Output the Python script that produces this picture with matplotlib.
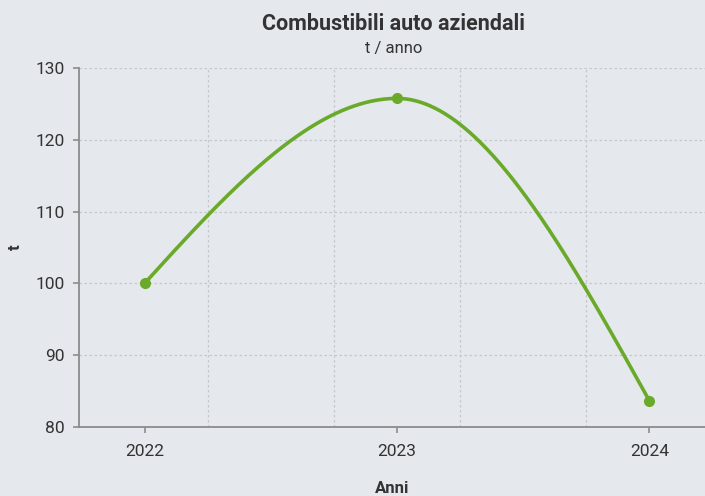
import numpy as np
import matplotlib
matplotlib.use("Agg")
import matplotlib.pyplot as plt

plt.rcParams['font.family'] = ['Roboto', 'DejaVu Sans']

# Data
years = [2022, 2023, 2024]
values = [100.0, 125.8, 83.6]
y_ticks = [80, 90, 100, 110, 120, 130]

title = "Combustibili auto aziendali"
subtitle = "t / anno"
x_label = "Anni"
y_label = "t"

BG = "#e5e8ed"
GREEN = "#6aaa2a"
TEXT = "#333333"


def monotone_x(x, y, n=200):
    """Monotone cubic interpolation (same rules as d3.curveMonotoneX)."""
    x = np.asarray(x, float)
    y = np.asarray(y, float)
    h = np.diff(x)
    s = np.diff(y) / h
    m = np.zeros_like(y)
    for i in range(1, len(x) - 1):
        p = (s[i - 1] * h[i] + s[i] * h[i - 1]) / (h[i - 1] + h[i])
        m[i] = (np.sign(s[i - 1]) + np.sign(s[i])) * min(abs(s[i - 1]), abs(s[i]), 0.5 * abs(p))
    m[0] = (3 * s[0] - m[1]) / 2
    m[-1] = (3 * s[-1] - m[-2]) / 2
    xs, ys = [], []
    for i in range(len(x) - 1):
        t = np.linspace(0, 1, n)
        h00 = 2 * t**3 - 3 * t**2 + 1
        h10 = t**3 - 2 * t**2 + t
        h01 = -2 * t**3 + 3 * t**2
        h11 = t**3 - t**2
        xs.append(x[i] + t * h[i])
        ys.append(h00 * y[i] + h10 * h[i] * m[i] + h01 * y[i + 1] + h11 * h[i] * m[i + 1])
    return np.concatenate(xs), np.concatenate(ys)


fig = plt.figure(figsize=(7.05, 4.96), dpi=100, facecolor=BG)
ax = fig.add_axes([0.112, 0.1397, 0.888, 0.7226], facecolor=BG)

cx, cy = monotone_x(years, values)
ax.plot(cx, cy, color=GREEN, lw=2.6, solid_capstyle='round', zorder=3)
ax.plot(years, values, 'o', color=GREEN, ms=7, zorder=4)

ax.set_xlim(2021.74, 2024.22)
ax.set_ylim(80, 130)
ax.set_xticks(years)
ax.set_xticklabels([str(y) for y in years])
ax.set_yticks(y_ticks)

# dotted grid between the year ticks
ax.set_xticks([2022.25, 2022.75, 2023.25, 2023.75], minor=True)
ax.grid(True, which='minor', axis='x', color='#c4c7cc', linestyle=(0, (2, 2)), lw=0.9)
ax.grid(True, which='major', axis='y', color='#c4c7cc', linestyle=(0, (2, 2)), lw=0.9)
ax.tick_params(axis='x', which='minor', length=0)
ax.set_axisbelow(True)

for side in ('top', 'right'):
    ax.spines[side].set_visible(False)
for side in ('left', 'bottom'):
    ax.spines[side].set_color('#8c8c8c')
    ax.spines[side].set_linewidth(1.3)

ax.tick_params(axis='both', which='major', colors='#8c8c8c', labelcolor=TEXT,
               labelsize=12.5, length=4.5, width=1.2)
ax.tick_params(axis='x', pad=8)
ax.tick_params(axis='y', pad=5.5)

ax.set_xlabel(x_label, fontsize=12, fontweight='bold', color=TEXT, labelpad=15.5)
ax.set_ylabel(y_label, fontsize=12, fontweight='bold', color=TEXT, labelpad=9)

fig.text(0.558, 0.951, title, ha='center', va='center', fontsize=15.5,
         fontweight='bold', color=TEXT)
fig.text(0.558, 0.903, subtitle, ha='center', va='center', fontsize=12, color=TEXT)

fig.savefig("out.png", dpi=100, facecolor=BG)
